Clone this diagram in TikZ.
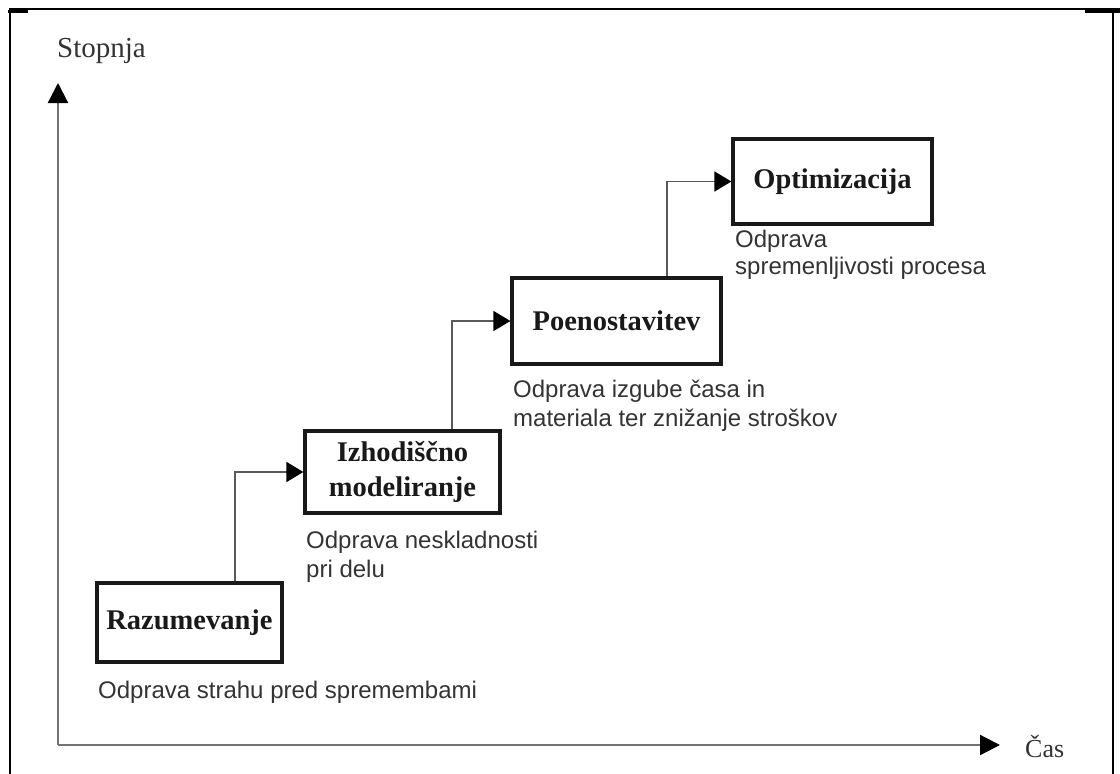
\documentclass[tikz,border=0pt]{standalone}
\usepackage{fontspec}
\setmainfont{Liberation Serif}
\newfontfamily\arialfont{Liberation Sans}
\usetikzlibrary{arrows.meta}
\begin{document}
\begin{tikzpicture}[x=1pt,y=-1pt,
  stage/.style={draw=black!90, line width=3.2pt, font=\fontsize{28.5}{35}\selectfont\bfseries,
    text=black!90, align=center, inner sep=0pt},
  note/.style={font=\arialfont\fontsize{24}{29}\selectfont, text=black!80, align=left,
    anchor=base west, inner sep=0pt},
  link/.style={draw=black!65, line width=1.6pt, -{Triangle[length=17pt,width=20pt,color=black]}},
  axis/.style={draw=black!55, line width=2.2pt, -{Triangle[length=20pt,width=20pt,color=black]}},
  frame/.style={draw=black, line width=1.8pt},
  lbl/.style={font=\fontsize{29}{30}\selectfont, text=black!80, anchor=base west, inner sep=0pt}]
\useasboundingbox (0,0) rectangle (1120,774);

% page frame
\draw[frame] (10,774) -- (10,9) -- (1120,9);
\draw[frame] (1113,11) -- (1113,774);
\draw[line width=3pt] (8,11) -- (28,11);
\draw[line width=3pt] (1085,11) -- (1120,11);

% axes
\coordinate (o) at (58,745);
\coordinate (ytop) at (58,83);
\coordinate (xend) at (1000,745);
\draw[axis] (o) -- (ytop);
\draw[axis] (o) -- (xend);
\node[lbl] (ylab) at (57,57) {Stopnja};
\node[lbl, font=\fontsize{26}{28}\selectfont] (xlab) at (1025,757) {Čas};

% stages
\node[stage, minimum width=185pt, minimum height=79pt] (raz) at (189.5,622.5) {Razumevanje};
\node[stage, minimum width=195pt, minimum height=82pt] (izh) at (402.5,472) {Izhodiščno\\modeliranje};
\node[stage, minimum width=209pt, minimum height=86pt] (poe) at (616.5,321) {Poenostavitev};
\node[stage, minimum width=199pt, minimum height=85pt] (opt) at (832.5,181.5) {Optimizacija};

% step connectors
\draw[link] ([xshift=45.5pt]raz.north) |- (izh.west);
\draw[link] ([xshift=49.5pt]izh.north) |- (poe.west);
\draw[link] ([xshift=50.5pt]poe.north) |- (opt.west);

% descriptions (anchored at the baseline of their last line)
\node[note] (nraz) at (98,698) {Odprava strahu pred spremembami};
\node[note] (nizh) at (306,577) {Odprava neskladnosti\\pri delu};
\node[note] (npoe) at (513,426) {Odprava izgube časa in\\materiala ter znižanje stroškov};
\node[note, font=\arialfont\fontsize{24}{27}\selectfont] (nopt) at (735,274) {Odprava\\spremenljivosti procesa};
\end{tikzpicture}
\end{document}
